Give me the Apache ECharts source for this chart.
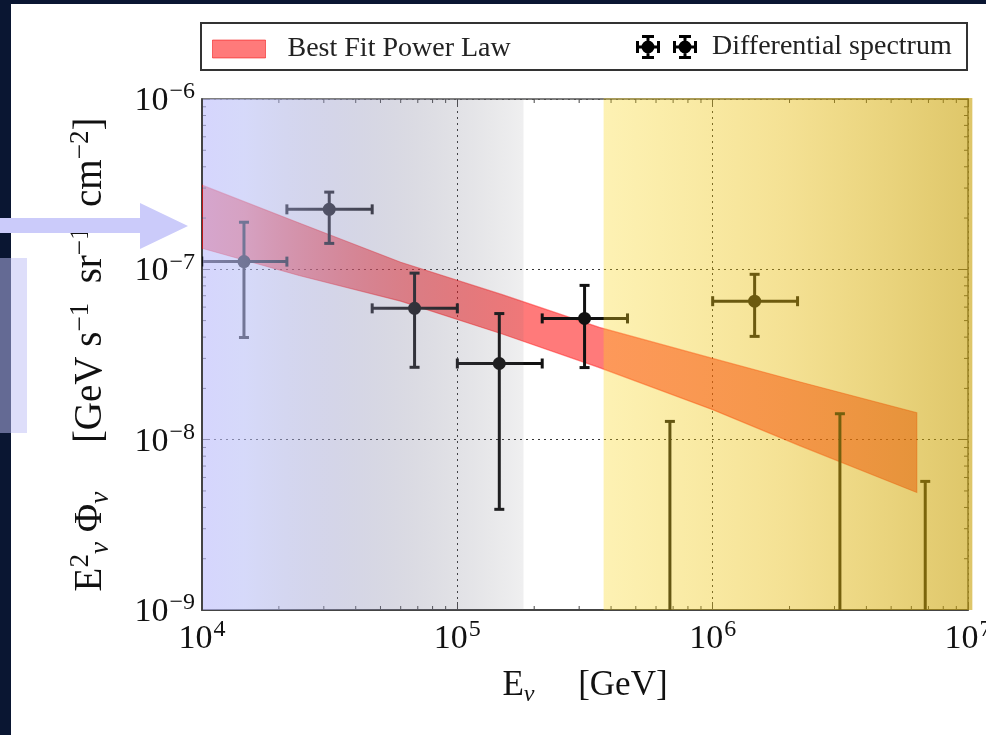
<!DOCTYPE html>
<html><head><meta charset="utf-8">
<script src="https://cdn.jsdelivr.net/npm/echarts@6/dist/echarts.min.js"></script>
<style>html,body{margin:0;padding:0;background:#fff}#c{width:986px;height:735px}</style>
</head><body><div id="c"></div>
<script>
// ---- data ----
const binCenter = [1.46e4, 3.15e4, 6.8e4, 1.46e5, 3.15e5, 1.46e6];
const binLow    = [1.0e4, 2.15e4, 4.64e4, 1.0e5, 2.15e5, 1.0e6];
const binHigh   = [2.15e4, 4.64e4, 1.0e5, 2.15e5, 4.64e5, 2.15e6];
const flux      = [1.11e-7, 2.25e-7, 5.9e-8, 2.8e-8, 5.15e-8, 6.5e-8];
const fluxLow   = [3.98e-8, 1.42e-7, 2.66e-8, 3.9e-9, 2.65e-8, 4.04e-8];
const fluxHigh  = [1.89e-7, 2.84e-7, 9.5e-8, 5.5e-8, 8.05e-8, 9.35e-8];
const ulEnergy  = [6.8e5, 3.15e6, 6.8e6];
const ulFlux    = [1.28e-8, 1.42e-8, 5.69e-9];
const bandEnergy = [1e4, 2.4e4, 6e4, 1.5e5, 3.6e5, 1e6, 2.2e6, 6.3e6];
const bandUpper  = [3.12e-7, 1.87e-7, 1.10e-7, 7.1e-8, 4.56e-8, 3.0e-8, 2.18e-8, 1.44e-8];
const bandLower  = [1.33e-7, 9.2e-8, 6.5e-8, 4.17e-8, 2.65e-8, 1.5e-8, 9.2e-9, 4.9e-9];
const shadeStart = [1e4, 3.74e5];
const shadeEnd   = [1.8e5, 1.04e7];
const xRange = [1e4, 1e7];
const yRange = [1e-9, 1e-6];
const minorMantissa = [2, 3, 4, 5, 6, 7, 8, 9];
const xDecades = [1e4, 1e5, 1e6];
const yDecades = [1e-9, 1e-8, 1e-7];

const minorX = [], minorY = [];
xDecades.forEach(d => minorMantissa.forEach(m => minorX.push(m * d)));
yDecades.forEach(d => minorMantissa.forEach(m => minorY.push(m * d)));

const SERIF = 'Liberation Serif';
const INK = '#111';
function expLabel(v) {
  const e = Math.round(Math.log10(v));
  return '{b|10}{s|' + (e < 0 ? '\u2212' + (-e) : e) + '}';
}
const tickRich = {
  b: { fontFamily: SERIF, fontSize: 34, color: INK, lineHeight: 38, verticalAlign: 'bottom' },
  s: { fontFamily: SERIF, fontSize: 24, color: INK, lineHeight: 24, verticalAlign: 'top', padding: [0, 0, 0, 1] }
};
function nameRich(base, small) {
  return {
    b: { fontFamily: SERIF, fontSize: base, color: INK, lineHeight: base + 8 },
    sup: { fontFamily: SERIF, fontSize: small, color: INK, lineHeight: small + 2, verticalAlign: 'top' },
    sub: { fontFamily: SERIF, fontSize: small, color: INK, lineHeight: small + 2, verticalAlign: 'bottom', fontStyle: 'italic' }
  };
}

const chart = echarts.init(document.getElementById('c'));

const blueStops = [
  { offset: 0, color: 'rgba(190,190,252,0.64)' },
  { offset: 0.13, color: 'rgba(184,190,246,0.58)' },
  { offset: 0.40, color: 'rgba(157,159,204,0.44)' },
  { offset: 0.66, color: 'rgba(131,131,158,0.29)' },
  { offset: 0.93, color: 'rgba(107,107,120,0.14)' },
  { offset: 1, color: 'rgba(100,100,110,0.10)' }
];
const yellowStops = [
  { offset: 0, color: 'rgba(250,214,25,0.33)' },
  { offset: 0.5, color: 'rgba(230,186,10,0.44)' },
  { offset: 1, color: 'rgba(200,160,5,0.60)' }
];

const errIcon = (function () {
  let p = '';
  [0, 37].forEach(o => {
    const R = (x0, y0, x1, y1) => `M${o + x0},${y0} L${o + x1},${y0} L${o + x1},${y1} L${o + x0},${y1} Z `;
    p += R(0, 10.5, 24, 13.5) + R(10.5, 0, 13.5, 24) + R(0, 6, 3, 18) + R(21, 6, 24, 18) + R(6, 0, 18, 3) + R(6, 21, 18, 24);
    p += `M${o + 18.5},12 A6.5,6.5 0 1,1 ${o + 5.5},12 A6.5,6.5 0 1,1 ${o + 18.5},12 Z `;
  });
  return 'path://' + p;
})();

const logAxisBase = {
  type: 'log', logBase: 10,
  axisLine: { show: true, lineStyle: { color: '#444', width: 2 } },
  axisTick: { show: true, inside: true, length: 8, lineStyle: { color: '#444', width: 1 } },
  minorTick: { show: false }
};

chart.setOption({
  backgroundColor: '#ffffff',
  animation: false,
  grid: { left: 202, right: 18, top: 99, bottom: 125, outerBoundsMode: 'none' },
  legend: [
    { data: [{ name: 'Best Fit Power Law', icon: 'rect', itemStyle: { color: 'rgba(255,40,40,0.62)', borderColor: 'rgba(240,0,0,0.5)', borderWidth: 1 } }],
      left: 212, top: 35, padding: 0, itemWidth: 53, itemHeight: 18, selectedMode: false,
      textStyle: { fontFamily: SERIF, fontSize: 28, color: '#222', padding: [0, 0, 0, 17] } },
    { data: [{ name: 'Differential spectrum', icon: errIcon, itemStyle: { color: '#000' } }],
      left: 636, top: 33, padding: 0, itemWidth: 61, itemHeight: 24, selectedMode: false,
      textStyle: { fontFamily: SERIF, fontSize: 28, color: '#222', padding: [0, 0, 0, 10] } }
  ],
  xAxis: [
    Object.assign({}, logAxisBase, {
      position: 'bottom', min: xRange[0], max: xRange[1],
      axisLabel: { formatter: expLabel, rich: tickRich, margin: 8, showMinLabel: true, showMaxLabel: true },
      splitLine: { show: true, lineStyle: { color: '#333', width: 1, type: [2, 4] } },
      name: '{b|E}{sub|\u03bd}{b|\u2003 [GeV]}', nameLocation: 'middle', nameGap: 54,
      nameTextStyle: { rich: nameRich(35, 24) }
    }),
    Object.assign({}, logAxisBase, {
      position: 'top', min: xRange[0], max: xRange[1],
      axisLine: { show: true, lineStyle: { color: '#555', width: 1.5 } },
      axisLabel: { show: false }, splitLine: { show: false }
    })
  ],
  yAxis: [
    Object.assign({}, logAxisBase, {
      position: 'left', min: yRange[0], max: yRange[1],
      axisLabel: { formatter: expLabel, rich: tickRich, margin: 7, showMinLabel: true, showMaxLabel: true },
      splitLine: { show: true, lineStyle: { color: '#333', width: 1, type: [2, 4] } },
      name: '{b|E}{sup|2}{sub|\u03bd}{b| \u03a6}{sub|\u03bd}{b|\u2003 [GeV s}{sup|\u22121}{b|\u2002sr}{sup|\u22121}{b|\u2002cm}{sup|\u22122}{b|]}',
      nameLocation: 'middle', nameGap: 88, nameRotate: 90,
      nameTextStyle: { rich: nameRich(39, 27) }
    }),
    Object.assign({}, logAxisBase, {
      position: 'right', min: yRange[0], max: yRange[1],
      axisLine: { show: true, lineStyle: { color: '#555', width: 1.5 } },
      axisLabel: { show: false }, splitLine: { show: false }
    })
  ],
  series: [
    { // best fit band
      name: 'Best Fit Power Law', type: 'custom', z: 2, clip: true,
      itemStyle: { color: 'rgba(255,40,40,0.62)' },
      data: [[bandEnergy[0], bandUpper[0]]],
      renderItem: function (params, api) {
        const pts = [];
        for (let i = 0; i < bandEnergy.length; i++) pts.push(api.coord([bandEnergy[i], bandUpper[i]]));
        for (let i = bandEnergy.length - 1; i >= 0; i--) pts.push(api.coord([bandEnergy[i], bandLower[i]]));
        return { type: 'polygon', shape: { points: pts, smooth: 0 },
          style: { fill: 'rgba(255,0,0,0.52)', stroke: 'rgba(255,0,0,0.45)', lineWidth: 1.2 } };
      }
    },
    { // differential spectrum points
      name: 'Differential spectrum', type: 'custom', z: 3, clip: true,
      itemStyle: { color: '#000' },
      data: binCenter.map((e, i) => [e, flux[i], binLow[i], binHigh[i], fluxLow[i], fluxHigh[i]]),
      encode: { x: 0, y: 1 },
      renderItem: function (params, api) {
        const c = api.coord([api.value(0), api.value(1)]);
        const xl = api.coord([api.value(2), api.value(1)])[0];
        const xh = api.coord([api.value(3), api.value(1)])[0];
        const yl = api.coord([api.value(0), api.value(4)])[1];
        const yh = api.coord([api.value(0), api.value(5)])[1];
        const st = { stroke: INK, lineWidth: 3 };
        const cap = 5;
        return { type: 'group', children: [
          { type: 'line', shape: { x1: xl, y1: c[1], x2: xh, y2: c[1] }, style: st },
          { type: 'line', shape: { x1: c[0], y1: yl, x2: c[0], y2: yh }, style: st },
          { type: 'line', shape: { x1: xl, y1: c[1] - cap, x2: xl, y2: c[1] + cap }, style: st },
          { type: 'line', shape: { x1: xh, y1: c[1] - cap, x2: xh, y2: c[1] + cap }, style: st },
          { type: 'line', shape: { x1: c[0] - cap, y1: yl, x2: c[0] + cap, y2: yl }, style: st },
          { type: 'line', shape: { x1: c[0] - cap, y1: yh, x2: c[0] + cap, y2: yh }, style: st },
          { type: 'circle', shape: { cx: c[0], cy: c[1], r: 6.5 }, style: { fill: INK } }
        ] };
      }
    },
    { // upper limits
      type: 'custom', z: 3, clip: true,
      data: ulEnergy.map((e, i) => [e, ulFlux[i]]),
      encode: { x: 0, y: 1 },
      renderItem: function (params, api) {
        const t = api.coord([api.value(0), api.value(1)]);
        const b = api.coord([api.value(0), yRange[0]]);
        const st = { stroke: INK, lineWidth: 3 };
        return { type: 'group', children: [
          { type: 'line', shape: { x1: t[0], y1: t[1], x2: b[0], y2: b[1] }, style: st },
          { type: 'line', shape: { x1: t[0] - 5, y1: t[1], x2: t[0] + 5, y2: t[1] }, style: st }
        ] };
      }
    },
    { // minor ticks x (bottom & top)
      type: 'custom', z: 4, clip: false, silent: true,
      data: minorX.map(v => [v, yRange[0]]),
      encode: { x: 0, y: 1 },
      renderItem: function (params, api) {
        const b = api.coord([api.value(0), yRange[0]]);
        const t = api.coord([api.value(0), yRange[1]]);
        const st = { stroke: '#444', lineWidth: 1 };
        return { type: 'group', children: [
          { type: 'line', shape: { x1: b[0], y1: b[1], x2: b[0], y2: b[1] - 4 }, style: st },
          { type: 'line', shape: { x1: t[0], y1: t[1], x2: t[0], y2: t[1] + 4 }, style: st }
        ] };
      }
    },
    { // minor ticks y (left & right)
      type: 'custom', z: 4, clip: false, silent: true,
      data: minorY.map(v => [xRange[0], v]),
      encode: { x: 0, y: 1 },
      renderItem: function (params, api) {
        const l = api.coord([xRange[0], api.value(1)]);
        const r = api.coord([xRange[1], api.value(1)]);
        const st = { stroke: '#444', lineWidth: 1 };
        return { type: 'group', children: [
          { type: 'line', shape: { x1: l[0], y1: l[1], x2: l[0] + 4, y2: l[1] }, style: st },
          { type: 'line', shape: { x1: r[0], y1: r[1], x2: r[0] - 4, y2: r[1] }, style: st }
        ] };
      }
    },
    { // shaded energy ranges, drawn on top
      type: 'custom', z: 6, clip: false, silent: true,
      data: shadeStart.map((s, i) => [s, shadeEnd[i]]),
      encode: { x: [0, 1] },
      renderItem: function (params, api) {
        const i = params.dataIndex;
        const p0 = api.coord([api.value(0), yRange[1]]);
        const p1 = api.coord([api.value(1), yRange[0]]);
        const stops = i === 0 ? blueStops : yellowStops;
        return { type: 'rect',
          shape: { x: p0[0] + (i === 0 ? 1 : 0), y: p0[1] - (i === 0 ? 0 : 1), width: p1[0] - p0[0], height: p1[1] - p0[1] + (i === 0 ? 0 : 1) },
          style: { fill: new echarts.graphic.LinearGradient(0, 0, 1, 0, stops) } };
      }
    }
  ],
  graphic: [
    { type: 'rect', z: 1, shape: { x: 201, y: 23, width: 766, height: 47 }, style: { fill: 'none', stroke: '#333', lineWidth: 2 } },
    { type: 'rect', z: 100, shape: { x: 0, y: 0, width: 986, height: 4 }, style: { fill: '#0a1632' } },
    { type: 'rect', z: 100, shape: { x: 0, y: 0, width: 11, height: 735 }, style: { fill: '#0a1632' } },
    { type: 'rect', z: 101, shape: { x: 0, y: 258, width: 27, height: 175 }, style: { fill: 'rgba(190,190,245,0.5)' } },
    { type: 'polygon', z: 102, shape: { points: [[0, 218], [140, 218], [140, 203], [188, 226], [140, 249], [140, 233], [0, 233]] }, style: { fill: '#cbcbfa' } }
  ]
});
</script>
</body></html>
